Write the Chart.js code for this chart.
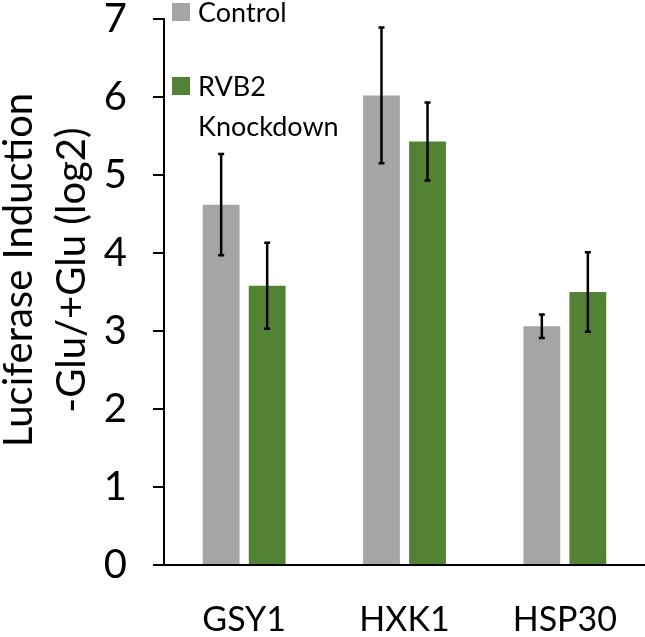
<!DOCTYPE html>
<html>
<head>
<meta charset="utf-8">
<script src="https://cdn.jsdelivr.net/npm/chart.js@4.4.1/dist/chart.umd.min.js"></script>
<style>
  html, body { margin: 0; padding: 0; background: #fff; }
  #wrap { width: 645px; height: 637px; }
</style>
</head>
<body>
<div id="wrap"><canvas id="luciferaseChart" width="645" height="637"></canvas></div>
<script>
const categories = ["GSY1", "HXK1", "HSP30"];
const seriesNames = ["Control", "RVB2 Knockdown"];
const controlValues = [4.62, 6.02, 3.06];
const controlErrors = [0.65, 0.87, 0.15];
const knockdownValues = [3.58, 5.43, 3.50];
const knockdownErrors = [0.55, 0.50, 0.51];
const yTitleLines = ["Luciferase Induction", "-Glu/+Glu (log2)"];
const yMin = 0;
const yMax = 7;
const yStep = 1;

const FONT = "Lato, 'Open Sans', sans-serif";

// error bars drawn from the bar elements + y scale
const errorBarPlugin = {
  id: "errorBars",
  afterDatasetsDraw(chart) {
    const ctx = chart.ctx;
    const yScale = chart.scales.y;
    chart.data.datasets.forEach((ds, i) => {
      const meta = chart.getDatasetMeta(i);
      meta.data.forEach((bar, j) => {
        const v = ds.data[j];
        const e = ds.errors[j];
        const top = yScale.getPixelForValue(v + e);
        const bottom = yScale.getPixelForValue(v - e);
        ctx.save();
        ctx.strokeStyle = "#000";
        ctx.lineWidth = 2.5;
        ctx.beginPath();
        ctx.moveTo(bar.x, top);
        ctx.lineTo(bar.x, bottom);
        ctx.moveTo(bar.x - 3, top);
        ctx.lineTo(bar.x + 3, top);
        ctx.moveTo(bar.x - 3, bottom);
        ctx.lineTo(bar.x + 3, bottom);
        ctx.stroke();
        ctx.restore();
      });
    });
  },
};

// legend sits inside the plot, top left, with wrapped labels
const insideLegendPlugin = {
  id: "insideLegend",
  afterDraw(chart) {
    const ctx = chart.ctx;
    const area = chart.chartArea;
    const box = 18;
    const maxWidth = 140;
    const lineGap = 40;
    let y = area.top - 16;
    ctx.save();
    ctx.font = "27px " + FONT;
    ctx.textBaseline = "middle";
    ctx.textAlign = "left";
    chart.data.datasets.forEach((ds) => {
      ctx.fillStyle = ds.backgroundColor;
      ctx.fillRect(area.left + 8, y, box, box);
      // simple word wrap
      const words = ds.label.split(" ");
      const lines = [];
      let line = "";
      words.forEach((w) => {
        const test = line ? line + " " + w : w;
        if (line && ctx.measureText(test).width > maxWidth) {
          lines.push(line);
          line = w;
        } else {
          line = test;
        }
      });
      lines.push(line);
      ctx.fillStyle = "#000";
      lines.forEach((l, k) => {
        ctx.fillText(l, area.left + 34, y + box / 2 + 1 + k * lineGap);
      });
      y += 74;
    });
    ctx.restore();
  },
};

// two-line rotated y title, centred a bit above the plot middle
const yTitlePlugin = {
  id: "yTitle",
  afterDraw(chart) {
    const ctx = chart.ctx;
    const cy = 270;
    const baselines = [32, 85];
    ctx.save();
    ctx.font = "40px " + FONT;
    ctx.fillStyle = "#000";
    ctx.textAlign = "center";
    ctx.textBaseline = "alphabetic";
    yTitleLines.forEach((txt, i) => {
      ctx.save();
      ctx.translate(baselines[i], cy);
      ctx.rotate(-Math.PI / 2);
      ctx.fillText(txt, 0, 0);
      ctx.restore();
    });
    ctx.restore();
  },
};

function initChart() {
  const ctx = document.getElementById("luciferaseChart").getContext("2d");

  new Chart(ctx, {
    type: "bar",
    data: {
      labels: categories,
      datasets: [
        {
          label: seriesNames[0],
          data: controlValues,
          errors: controlErrors,
          backgroundColor: "#A5A5A5",
          borderWidth: 0,
          barPercentage: 0.8,
          categoryPercentage: 0.574,
        },
        {
          label: seriesNames[1],
          data: knockdownValues,
          errors: knockdownErrors,
          backgroundColor: "#548235",
          borderWidth: 0,
          barPercentage: 0.8,
          categoryPercentage: 0.574,
        },
      ],
    },
    options: {
      responsive: false,
      animation: false,
      layout: {
        padding: { top: 19, right: 0, bottom: 0, left: 0 },
      },
      plugins: {
        legend: { display: false },
        tooltip: { enabled: false },
      },
      scales: {
        y: {
          min: yMin,
          max: yMax,
          ticks: {
            stepSize: yStep,
            color: "#000",
            padding: 26,
            font: { family: FONT, size: 40, lineHeight: 0.9 },
          },
          grid: {
            display: true,
            drawOnChartArea: false,
            drawTicks: true,
            tickLength: 11,
            color: "#000",
            lineWidth: 2,
          },
          border: { color: "#000", width: 2 },
          afterFit: (scale) => {
            scale.width = 164;
            scale.paddingTop = 0;
            scale.paddingBottom = 0;
          },
        },
        x: {
          ticks: {
            color: "#000",
            padding: 27,
            font: { family: FONT, size: 34 },
          },
          grid: { display: false },
          border: { color: "#000", width: 2 },
          afterFit: (scale) => {
            scale.height = 72;
            scale.paddingLeft = 0;
            scale.paddingRight = 0;
          },
        },
      },
    },
    plugins: [errorBarPlugin, insideLegendPlugin, yTitlePlugin],
  });
}

document.addEventListener("DOMContentLoaded", initChart);
</script>
</body>
</html>
